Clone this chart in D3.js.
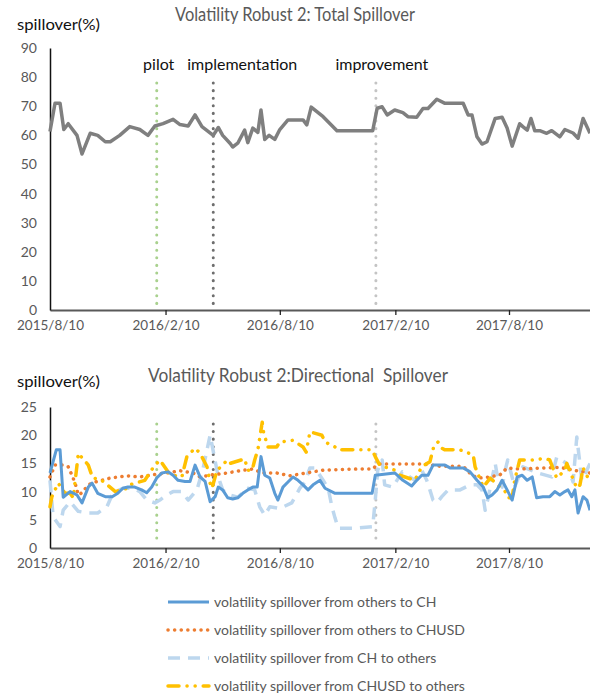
<!DOCTYPE html>
<html><head><meta charset="utf-8">
<script src="https://cdn.jsdelivr.net/npm/d3@7"></script>
<style>body{margin:0;background:#fff} svg{display:block} text{font-family:Lato,"Open Sans",sans-serif}</style>
</head><body><svg id="c" width="590" height="693"></svg>
<script>
// ---------- DATA ----------
const dateDomain = ["2015-08-10", "2017-12-17"];
const xTickDates = ["2015-08-10", "2016-02-10", "2016-08-10", "2017-02-10", "2017-08-10"];
const topYTicks = [0, 10, 20, 30, 40, 50, 60, 70, 80, 90];
const bottomYTicks = [0, 5, 10, 15, 20, 25];

const eventNames = ["pilot", "implementation", "improvement"];
const eventDates = ["2016-01-27", "2016-04-26", "2017-01-10"];

const totalDates = ["2015-08-10","2015-08-18","2015-08-26","2015-09-01","2015-09-08","2015-09-22","2015-09-30","2015-10-13","2015-10-25","2015-11-06","2015-11-14","2015-11-29","2015-12-15","2015-12-31","2016-01-13","2016-01-24","2016-02-06","2016-02-22","2016-03-04","2016-03-17","2016-03-28","2016-04-08","2016-04-26","2016-05-04","2016-05-11","2016-05-23","2016-05-27","2016-06-04","2016-06-15","2016-06-20","2016-06-28","2016-07-06","2016-07-11","2016-07-17","2016-07-24","2016-08-02","2016-08-10","2016-08-23","2016-09-06","2016-09-16","2016-09-22","2016-09-29","2016-10-18","2016-11-09","2017-01-05","2017-01-12","2017-01-20","2017-01-28","2017-02-09","2017-02-22","2017-03-02","2017-03-16","2017-03-26","2017-04-03","2017-04-17","2017-04-30","2017-05-29","2017-06-06","2017-06-12","2017-06-20","2017-06-28","2017-07-06","2017-07-19","2017-07-30","2017-08-07","2017-08-15","2017-08-27","2017-09-01","2017-09-08","2017-09-14","2017-09-20","2017-09-28","2017-10-09","2017-10-17","2017-10-30","2017-11-07","2017-11-20","2017-11-28","2017-12-06","2017-12-17"];
const totalValues = [61.3,71,71,62,64,60,53.6,60.7,60,57.8,57.8,60,63,62,60,63.2,64,65.5,63.7,63.2,67,63,60,62.7,60,57.2,56,57.3,61.8,57.5,62.5,61,68.7,58.6,60,58.6,62,65.3,65.3,65.3,63.6,69.7,66.4,61.6,61.6,69.3,69.8,67,68.7,67.8,66.4,66.2,69.2,69.2,72.4,71,71,67,67,59.5,57,57.8,65.8,66.2,62.5,56.3,64,63,61.8,65.8,61.6,61.6,60.7,61.6,59.5,62,60.8,59,65.8,60.7];

const toCHDates = ["2015-08-10","2015-08-20","2015-08-26","2015-08-31","2015-09-11","2015-09-22","2015-09-30","2015-10-10","2015-10-16","2015-10-25","2015-11-06","2015-11-17","2015-11-26","2015-12-04","2015-12-12","2015-12-23","2016-01-03","2016-01-11","2016-01-19","2016-01-27","2016-02-04","2016-02-14","2016-02-22","2016-03-01","2016-03-12","2016-03-20","2016-03-28","2016-04-05","2016-04-13","2016-04-21","2016-04-29","2016-05-04","2016-05-11","2016-05-19","2016-05-27","2016-06-04","2016-06-12","2016-06-20","2016-06-28","2016-07-05","2016-07-11","2016-07-17","2016-07-25","2016-08-02","2016-08-07","2016-08-15","2016-08-23","2016-08-31","2016-09-08","2016-09-16","2016-09-24","2016-10-02","2016-10-13","2016-10-21","2016-11-06","2017-01-04","2017-01-09","2017-02-09","2017-02-22","2017-03-08","2017-03-16","2017-03-24","2017-04-03","2017-04-11","2017-04-30","2017-05-08","2017-05-29","2017-06-09","2017-06-20","2017-06-30","2017-07-07","2017-07-14","2017-07-22","2017-07-30","2017-08-07","2017-08-15","2017-08-23","2017-08-31","2017-09-08","2017-09-16","2017-09-23","2017-10-03","2017-10-14","2017-10-22","2017-10-30","2017-11-07","2017-11-12","2017-11-18","2017-11-23","2017-11-28","2017-12-06","2017-12-12","2017-12-17"];
const toCHValues = [13.3,17.4,17.4,9.0,10.0,9.4,8.0,10.8,11.5,9.7,9.1,9.1,9.7,10.6,10.8,10.8,10.3,9.8,10.8,12.4,13.3,13.5,12.9,12.0,11.8,11.8,14.7,12.6,11.8,8.2,9.1,10.8,10.3,8.9,8.7,8.9,9.7,10.3,10.8,10.8,16.2,12.9,12.4,9.7,8.5,10.8,11.7,12.6,12.0,11.2,10.3,11.2,12.0,10.6,9.7,9.7,12.9,13.3,12.0,11.0,12.0,12.9,12.9,14.7,14.7,14.2,14.2,13.5,12.0,10.8,8.9,9.4,10.3,12.0,10.3,8.5,12.6,12.9,12.0,12.6,8.9,9.1,9.1,10.0,9.4,10.0,10.3,9.1,10.3,6.2,9.1,8.5,6.7];

const toCHUSDDates = ["2015-08-10","2015-08-18","2015-08-31","2015-09-08","2015-09-14","2015-09-19","2015-09-24","2015-09-30","2015-10-10","2015-10-21","2015-11-14","2015-12-11","2015-12-31","2016-01-21","2016-02-12","2016-03-04","2016-03-25","2016-04-05","2016-04-26","2016-05-18","2016-06-08","2016-06-27","2016-07-14","2016-08-05","2016-08-26","2016-09-16","2016-10-18","2016-12-11","2017-01-05","2017-01-13","2017-02-01","2017-03-26","2017-04-22","2017-05-29","2017-06-12","2017-06-22","2017-07-11","2017-07-27","2017-08-07","2017-08-27","2017-09-17","2017-10-09","2017-10-30","2017-11-20","2017-12-17"];
const toCHUSDValues = [12.6,14.7,14.7,14.4,12.9,11.5,9.4,9.8,11.2,11.7,12.4,12.8,12.6,13.0,13.3,13.7,13.3,12.6,13.0,13.3,13.7,14.0,13.3,13.3,12.8,13.2,13.8,14.0,14.0,14.9,14.9,14.9,14.5,14.5,12.9,12.4,12.6,13.0,14.2,14.0,14.1,14.2,14.3,13.8,13.3];

const fromCHDates = ["2015-08-10","2015-08-15","2015-08-26","2015-08-31","2015-09-11","2015-09-24","2015-10-10","2015-10-25","2015-11-09","2015-11-18","2015-12-04","2015-12-20","2015-12-31","2016-01-11","2016-01-24","2016-02-01","2016-02-12","2016-02-22","2016-03-07","2016-03-17","2016-03-31","2016-04-10","2016-04-21","2016-05-04","2016-05-11","2016-05-19","2016-06-04","2016-06-20","2016-07-01","2016-07-09","2016-07-17","2016-07-25","2016-08-10","2016-08-29","2016-09-11","2016-09-19","2016-09-27","2016-10-05","2016-10-18","2016-10-26","2016-11-01","2016-11-06","2016-11-11","2016-12-08","2017-01-05","2017-01-09","2017-01-13","2017-01-20","2017-01-24","2017-02-06","2017-02-21","2017-03-13","2017-03-24","2017-04-01","2017-04-06","2017-04-11","2017-04-17","2017-04-25","2017-05-05","2017-05-24","2017-06-09","2017-06-20","2017-06-28","2017-07-03","2017-07-07","2017-07-19","2017-07-23","2017-07-30","2017-08-04","2017-08-08","2017-08-19","2017-09-01","2017-09-25","2017-10-17","2017-10-25","2017-11-10","2017-11-20","2017-11-26","2017-12-04","2017-12-12","2017-12-17"];
const fromCHValues = [12.0,5.5,3.8,6.7,8.2,6.5,6.2,6.2,7.4,9.7,10.6,10.6,10.0,8.5,8.0,8.5,9.4,10.0,10.0,8.5,10.3,14.2,20.0,12.6,10.3,9.5,9.0,10.6,10.3,7.3,5.8,7.3,7.0,8.0,10.6,11.7,14.2,14.2,12.0,10.6,7.3,5.3,3.5,3.5,3.8,8.5,13.8,15.6,11.2,10.8,13.5,12.0,13.8,12.0,10.3,8.5,8.0,9.1,10.3,10.3,11.2,11.2,10.3,6.7,8.5,15.0,12.4,10.8,13.8,15.6,10.8,14.4,13.3,12.6,16.1,15.0,11.7,19.7,12.0,13.8,15.0];

const fromCHUSDDates = ["2015-08-10","2015-08-13","2015-08-23","2015-09-03","2015-09-11","2015-09-16","2015-09-22","2015-09-24","2015-10-10","2015-10-17","2015-10-29","2015-11-06","2015-11-22","2015-12-11","2015-12-15","2016-01-08","2016-01-21","2016-02-01","2016-02-17","2016-03-07","2016-03-15","2016-03-28","2016-04-05","2016-04-16","2016-04-21","2016-04-24","2016-05-02","2016-05-11","2016-05-18","2016-05-23","2016-06-15","2016-06-20","2016-06-27","2016-07-01","2016-07-06","2016-07-13","2016-07-14","2016-07-22","2016-08-05","2016-08-10","2016-08-31","2016-09-16","2016-09-21","2016-09-27","2016-10-16","2016-10-21","2016-11-06","2016-11-11","2017-01-04","2017-01-09","2017-01-16","2017-02-09","2017-02-17","2017-03-13","2017-03-24","2017-04-06","2017-04-12","2017-04-19","2017-04-25","2017-04-30","2017-05-24","2017-06-14","2017-06-17","2017-06-30","2017-07-11","2017-08-04","2017-08-08","2017-08-15","2017-08-19","2017-08-27","2017-09-16","2017-10-06","2017-10-14","2017-10-25","2017-11-07","2017-11-10","2017-11-26","2017-12-01","2017-12-06","2017-12-17"];
const fromCHUSDValues = [7.3,9.1,11.5,9.7,9.7,8.9,14.7,16.8,14.7,12.4,12.2,11.5,10.0,10.6,11.2,12.0,14.2,15.6,13.0,12.6,16.2,17.7,16.8,14.4,11.5,10.6,13.8,14.7,15.6,15.0,15.8,13.8,13.8,15.6,17.4,22.3,21.0,17.9,17.9,18.8,19.1,17.9,17.0,20.6,20.0,18.8,17.9,17.4,17.4,16.2,14.7,13.8,12.9,12.0,14.4,15.3,17.9,18.8,17.7,17.4,17.4,16.5,14.4,10.8,12.4,10.0,8.9,8.9,12.0,15.6,15.6,15.9,15.6,12.4,13.8,15.0,10.6,11.2,14.2,11.7];

const seriesNames = ["volatility spillover from others to CH","volatility spillover from others to CHUSD","volatility spillover from CH to others","volatility spillover from CHUSD to others"];

// ---------- DRAW ----------
const parse = d3.timeParse("%Y-%m-%d");
const fmt = d3.timeFormat("%Y/%-m/%-d");
const svg = d3.select("#c");
const grey = "#595959";

const x = d3.scaleTime().domain(dateDomain.map(parse)).range([50, 590]);
const yTop = d3.scaleLinear().domain([0, 90]).range([310, 48]);
const yBot = d3.scaleLinear().domain([0, 25]).range([548, 407]);

function zip(ds, vs) { return ds.map((d, i) => ({ d: parse(d), v: vs[i] })); }

function drawAxes(y, ticks) {
  const gx = svg.append("g").attr("transform", `translate(0,${y(0)})`)
    .call(d3.axisBottom(x).tickValues(xTickDates.map(parse)).tickFormat(fmt).tickSizeInner(5).tickSizeOuter(0).tickPadding(5));
  gx.select(".domain").attr("stroke", grey).attr("stroke-width", 2);
  gx.selectAll(".tick line").attr("stroke", "#222").attr("stroke-width", 1.3);
  gx.selectAll(".tick").filter((d, i) => i === 0).select("line").remove();
  gx.selectAll("text").attr("fill", grey).style("font-size", "13.5px").style("font-family", "Lato");
  const gy = svg.append("g").attr("transform", "translate(50,0)")
    .call(d3.axisLeft(y).tickValues(ticks).tickSize(0).tickPadding(13));
  gy.select(".domain").attr("stroke", "#111").attr("stroke-width", 1.5);
  gy.selectAll("text").attr("fill", grey).style("font-size", "14px").style("font-family", "Lato");
}

function drawEvents(y, topVal, withLabels) {
  const colors = ["#a9d18e", "#6e6e6e", "#c4c4c4"];
  eventDates.forEach((ed, i) => {
    svg.append("line")
      .attr("x1", x(parse(ed))).attr("x2", x(parse(ed)))
      .attr("y1", y(topVal)).attr("y2", y(0) - 3)
      .attr("stroke", colors[i]).attr("stroke-width", 3)
      .attr("stroke-linecap", "round").attr("stroke-dasharray", "0.1,7.5");
  });
  if (withLabels) {
    const offs = [2, 29, 6];
    eventNames.forEach((n, i) => {
      svg.append("text").attr("x", x(parse(eventDates[i])) + offs[i]).attr("y", 70)
        .attr("text-anchor", "middle").style("font-size", "16px").attr("fill", "#111").text(n);
    });
  }
}

// Titles
svg.append("text").attr("x", 295).attr("y", 21).attr("text-anchor", "middle")
  .attr("fill", grey).style("font-size", "18.5px").attr("textLength", 240).attr("lengthAdjust", "spacingAndGlyphs")
  .text("Volatility Robust 2: Total Spillover");
svg.append("text").attr("x", 17).attr("y", 30).attr("fill", "#111").style("font-size", "16px")
  .attr("textLength", 83).attr("lengthAdjust", "spacingAndGlyphs").text("spillover(%)");
svg.append("text").attr("x", 298).attr("y", 382).attr("text-anchor", "middle")
  .attr("fill", grey).style("font-size", "18.5px").style("white-space", "pre")
  .attr("textLength", 300).attr("lengthAdjust", "spacingAndGlyphs")
  .text("Volatility Robust 2:Directional  Spillover");
svg.append("text").attr("x", 17).attr("y", 387).attr("fill", "#111").style("font-size", "16px")
  .attr("textLength", 83).attr("lengthAdjust", "spacingAndGlyphs").text("spillover(%)");

// Top chart
drawEvents(yTop, 78, true);
drawAxes(yTop, topYTicks);
const lineTop = d3.line().x(p => x(p.d)).y(p => yTop(p.v));
svg.append("path").datum(zip(totalDates, totalValues)).attr("d", lineTop)
  .attr("fill", "none").attr("stroke", "#7f7f7f").attr("stroke-width", 3.5).attr("stroke-linejoin", "round");

// Bottom chart
drawEvents(yBot, 22, false);
drawAxes(yBot, bottomYTicks);
const lineBot = d3.line().x(p => x(p.d)).y(p => yBot(p.v));
const styles = [
  { c: "#5b9bd5", w: 3, dash: null, cap: "butt" },
  { c: "#ed7d31", w: 3.5, dash: "0.1,6.5", cap: "round" },
  { c: "#bdd7ee", w: 3.5, dash: "12,8", cap: "butt" },
  { c: "#ffc000", w: 3.5, dash: "11,8,0.1,8,0.1,8", cap: "round" }
];
const seriesData = [zip(toCHDates, toCHValues), zip(toCHUSDDates, toCHUSDValues), zip(fromCHDates, fromCHValues), zip(fromCHUSDDates, fromCHUSDValues)];
[2, 1, 3, 0].forEach(si => {
  const s = styles[si];
  svg.append("path").datum(seriesData[si]).attr("d", lineBot).attr("fill", "none")
    .attr("stroke", s.c).attr("stroke-width", s.w).attr("stroke-linejoin", "round")
    .attr("stroke-linecap", s.cap).attr("stroke-dasharray", s.dash);
});

// Legend
seriesNames.forEach((n, i) => {
  const s = styles[i];
  const yy = 602 + i * 28;
  svg.append("line").attr("x1", 168).attr("x2", 209).attr("y1", yy).attr("y2", yy)
    .attr("stroke", s.c).attr("stroke-width", s.w)
    .attr("stroke-linecap", s.cap).attr("stroke-dasharray", s.dash);
  svg.append("text").attr("x", 214).attr("y", yy + 5).attr("fill", grey).style("font-size", "14px").text(n);
});
</script></body></html>
